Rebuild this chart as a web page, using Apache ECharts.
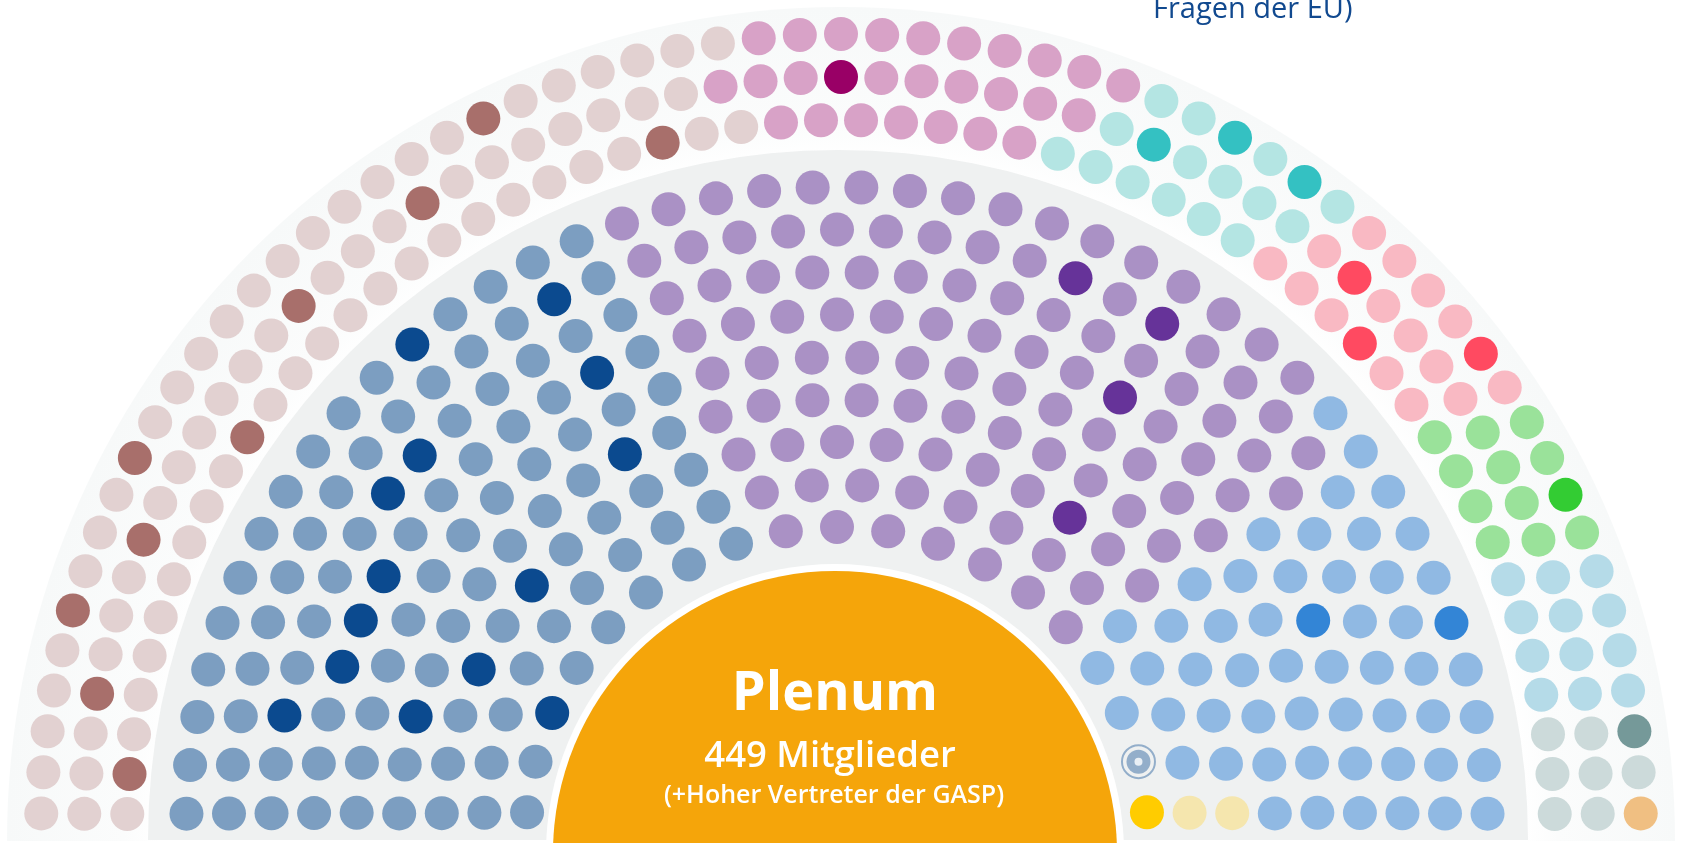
<!DOCTYPE html>
<html>
<head>
<meta charset="utf-8">
<script src="https://cdn.jsdelivr.net/npm/echarts@6/dist/echarts.min.js"></script>
<style>
  html, body { margin: 0; padding: 0; background: #ffffff; }
  #chart { width: 1683px; height: 843px; }
</style>
</head>
<body>
<div id="chart"></div>
<script>
// ================= DATA =================
// Inner chamber: 9 rows (innermost first), seats per row
const innerRowSeats = [19, 22, 25, 28, 30, 33, 36, 39, 42];
// seats per row for each inner group (left to right)
const innerSeatsBlue       = [8, 9, 10, 11, 12, 13, 14, 15, 16];   // 108
const innerSeatsPurple     = [7, 8, 10, 11, 12, 13, 15, 16, 16];   // 108
const innerSeatsLightBlue  = [2, 4, 4, 6, 6, 7, 7, 8, 10];         // 54
const innerSeatsHR         = [1, 0, 0, 0, 0, 0, 0, 0, 0];          // Hoher Vertreter
const innerSeatsCommission = [1, 1, 1, 0, 0, 0, 0, 0, 0];          // 3
// highlighted seats [row (1 = innermost), seat index from the left]
const innerHighlights = [
  [8, 13], [9, 11], [6, 11], [7, 8], [4, 9], [7, 7], [6, 5], [3, 5], [6, 4], [6, 3], [3, 3], [7, 2], [4, 2], [1, 2],
  [8, 24], [8, 26], [6, 22], [3, 17],
  [6, 28], [9, 37],
  [1, 18]
];

// Outer ring: 3 rows (innermost first)
const outerRowSeats = [56, 59, 61];
const outerSeatsPalePink = [26, 26, 28];   // 80
const outerSeatsMagenta  = [7, 10, 10];    // 27
const outerSeatsCyan     = [6, 6, 6];      // 18
const outerSeatsPink     = [6, 6, 6];      // 18
const outerSeatsGreen    = [4, 4, 4];      // 12
const outerSeatsSkyBlue  = [4, 4, 4];      // 12
const outerSeatsGrey     = [3, 3, 2];      // 8
const outerSeatsOrange   = [0, 0, 1];      // 1
const outerHighlights = [
  [3, 21], [1, 23], [2, 18], [2, 14], [1, 10], [3, 9], [2, 7], [3, 5], [2, 3], [1, 1],
  [2, 29],
  [3, 40], [3, 42], [2, 37],
  [2, 43], [1, 42], [3, 48],
  [3, 52],
  [3, 58]
];

const centerTitle = 'Plenum';
const centerNote = '(+Hoher Vertreter der GASP)';
const cornerText = 'Fragen der EU)';

// ================= STYLES / LAYOUT =================
const innerGroups = [
  { name: 'Blau',       seats: innerSeatsBlue,       color: '#7c9ec1', dark: '#0b4a8f' },
  { name: 'Violett',    seats: innerSeatsPurple,     color: '#aa91c5', dark: '#663399' },
  { name: 'Hellblau',   seats: innerSeatsLightBlue,  color: '#90b9e3', dark: '#3385d6' },
  { name: 'Hoher Vertreter', seats: innerSeatsHR,    color: '#7c9ec1', dark: '#7c9ec1', target: true, member: false },
  { name: 'Kommission', seats: innerSeatsCommission, color: '#f5e6ae', dark: '#ffcc00' }
];
const outerGroups = [
  { name: 'Rosa',       seats: outerSeatsPalePink, color: '#e2d1d1', dark: '#a86f6b' },
  { name: 'Magenta',    seats: outerSeatsMagenta,  color: '#d8a2c7', dark: '#990066' },
  { name: 'Türkis',     seats: outerSeatsCyan,     color: '#b4e5e3', dark: '#34c1c2' },
  { name: 'Pink',       seats: outerSeatsPink,     color: '#f9b9c3', dark: '#ff4a61' },
  { name: 'Grün',       seats: outerSeatsGreen,    color: '#9ae29a', dark: '#33cc33' },
  { name: 'Himmelblau', seats: outerSeatsSkyBlue,  color: '#b5dbe8', dark: '#b5dbe8' },
  { name: 'Grau',       seats: outerSeatsGrey,     color: '#ccdada', dark: '#759999' },
  { name: 'Orange',     seats: outerSeatsOrange,   color: '#f0bf82', dark: '#f0bf82' }
];

const innerRadius0 = 311, innerRowGap = 42.5;
const outerRadius0 = 714, outerRowGap = 43;
const DOT = 34;

function buildBand(rowSeats, groups, highlights, r0, gap) {
  const out = groups.map(() => []);
  rowSeats.forEach((n, ri) => {
    let seat = 0;
    const r = r0 + ri * gap;
    groups.forEach((g, gi) => {
      for (let k = 0; k < g.seats[ri]; k++, seat++) {
        const ang = 180 - (seat + 0.5) * 180 / n;
        const hl = highlights.some(h => h[0] === ri + 1 && h[1] === seat);
        const item = { value: [r, ang] };
        if (hl) item.itemStyle = { color: g.dark };
        out[gi].push(item);
      }
    });
  });
  return out;
}

const innerData = buildBand(innerRowSeats, innerGroups, innerHighlights, innerRadius0, innerRowGap);
const outerData = buildBand(outerRowSeats, outerGroups, outerHighlights, outerRadius0, outerRowGap);

const sum = a => a.reduce((s, v) => s + v, 0);
const totalMembers =
  innerGroups.filter(g => g.member !== false).reduce((s, g) => s + sum(g.seats), 0) +
  outerGroups.reduce((s, g) => s + sum(g.seats), 0);

const series = [];
function half(color, z, center, radius) {
  return {
    type: 'pie', silent: true, z: z, center: center, radius: radius,
    startAngle: 180, clockwise: true, animation: false,
    label: { show: false }, labelLine: { show: false },
    itemStyle: { borderWidth: 0 },
    data: [{ value: 1, itemStyle: { color: color } }, { value: 1, itemStyle: { color: 'rgba(0,0,0,0)' } }]
  };
}
series.push(half({
  type: 'radial', x: 841, y: 841, r: 834, global: true,
  colorStops: [
    { offset: 0, color: '#ffffff' }, { offset: 0.82, color: '#ffffff' },
    { offset: 0.86, color: '#fbfcfc' }, { offset: 1, color: '#f7f9f9' }
  ]
}, 1, [841, 841], [0, 834]));
series.push(half('#eff1f1', 2, [838, 840], [0, 690]));
series.push(half('#ffffff', 3, [835, 853], [0, 289]));
series.push(half('#f5a50a', 4, [835, 853], [0, 282]));

function addGroupSeries(groups, data, polarIndex) {
  groups.forEach((g, gi) => {
    if (!data[gi].length) return;
    if (g.target) {
      series.push({ type: 'scatter', coordinateSystem: 'polar', polarIndex, z: 10, silent: true, name: g.name,
        symbol: 'circle', symbolSize: 33, data: data[gi],
        itemStyle: { color: 'rgba(0,0,0,0)', borderColor: g.color, borderWidth: 2 } });
      series.push({ type: 'scatter', coordinateSystem: 'polar', polarIndex, z: 11, silent: true,
        symbol: 'circle', symbolSize: 24, data: data[gi], itemStyle: { color: g.color } });
      series.push({ type: 'scatter', coordinateSystem: 'polar', polarIndex, z: 12, silent: true,
        symbol: 'circle', symbolSize: 8, data: data[gi], itemStyle: { color: '#ffffff' } });
    } else {
      series.push({ type: 'scatter', coordinateSystem: 'polar', polarIndex, z: 10, silent: true, name: g.name,
        symbol: 'circle', symbolSize: DOT, data: data[gi], itemStyle: { color: g.color, opacity: 1 } });
    }
  });
}
addGroupSeries(innerGroups, innerData, 0);
addGroupSeries(outerGroups, outerData, 1);

const hiddenAngle = (i) => ({ polarIndex: i, type: 'value', min: 0, max: 360, startAngle: 0, clockwise: false, show: false });
const hiddenRadius = (i) => ({ polarIndex: i, type: 'value', min: 0, max: 800, show: false });

const option = {
  animation: false,
  backgroundColor: '#ffffff',
  polar: [
    { center: [837, 838], radius: 800 },
    { center: [841, 834], radius: 800 }
  ],
  angleAxis: [hiddenAngle(0), hiddenAngle(1)],
  radiusAxis: [hiddenRadius(0), hiddenRadius(1)],
  series: series,
  graphic: [
    { type: 'text', z: 100, silent: true, style: { text: centerTitle, x: 835, y: 695, textAlign: 'center', textVerticalAlign: 'middle', fill: '#ffffff', font: 'bold 54px "Open Sans"' } },
    { type: 'text', z: 100, silent: true, style: { text: totalMembers + ' Mitglieder', x: 830, y: 757, textAlign: 'center', textVerticalAlign: 'middle', fill: '#ffffff', font: '600 36.5px "Open Sans"' } },
    { type: 'text', z: 100, silent: true, style: { text: centerNote, x: 834, y: 796, textAlign: 'center', textVerticalAlign: 'middle', fill: '#ffffff', font: '600 25px "Open Sans"' } },
    { type: 'text', z: 100, silent: true, style: { text: cornerText, x: 1153, y: 10, textAlign: 'left', textVerticalAlign: 'middle', fill: '#11498f', font: '29px "Open Sans"' } }
  ]
};

const chart = echarts.init(document.getElementById('chart'), null, { renderer: 'canvas', width: 1683, height: 843 });
chart.setOption(option);
</script>
</body>
</html>
